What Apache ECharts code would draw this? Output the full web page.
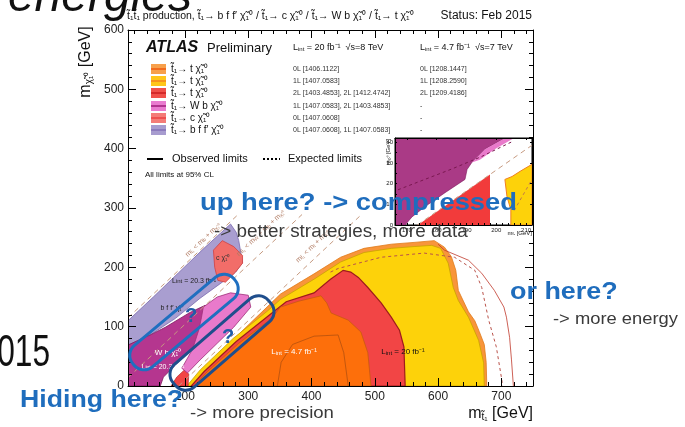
<!DOCTYPE html>
<html><head><meta charset="utf-8">
<script src="https://cdn.jsdelivr.net/npm/echarts@6/dist/echarts.min.js"></script>
<style>html,body{margin:0;padding:0;background:#fff}#c{width:685px;height:427px}</style>
</head><body><div id="c"></div>
<script>
// ---------- axis ticks / labels ----------
const xMajor = [200,300,400,500,600,700];
const xMinor = [120,140,160,180,220,240,260,280,320,340,360,380,420,440,460,480,520,540,560,580,620,640,660,680,720,740];
const insetXLabels = [170,180,190,200,210];
const insetXMinor = [168,172,174,176,178,182,184,186,188,192,194,196,198,202,204,206,208];
const insetYLabels = [0,10,20,30,40];
const insetYMinor = [5,15,25,35];

// ---------- main plot regions (m_stop, m_LSP) ----------
const orange0L = [[205,0],[226,27],[278,80],[351,155],[404,189],[446,217],[483,232],[526,239],[562,242],[594,245],[610,234],[621,218],[628,195],[632,161],[648,125],[658,110],[665,92],[673,70],[676,40],[677,0]];
const yellow1L = [[203,0],[224,27],[276,80],[330,126],[351,146],[404,180],[446,209],[483,225],[526,232],[562,235],[590,237],[604,232],[616,207],[624,166],[632,144],[648,116],[664,77],[672,39],[673,0]];
const red2L = [[210,0],[230,24],[281,75],[334,120],[360,142],[404,157],[430,180],[450,195],[462,192],[474,183],[489,166],[510,140],[526,116],[539,94],[546,66],[548,0]];
const orange7TeV = [[214,0],[236,25],[285,72],[336,113],[351,133],[380,143],[415,152],[424,140],[431,123],[458,111],[478,91],[489,56],[494,0]];
const contour7TeV = [[346,0],[352,40],[370,70],[404,84],[442,86],[451,56],[458,0]];
const red2Lsmall = [[178,0],[187,15],[200,28],[206,20],[205,0]];
const bffLav = [[110,110],[150,150],[190,191],[230,232],[272,273],[281,259],[285,245],[291,208],[280,192],[259,175],[224,148],[185,114],[145,86],[110,69]];
const cLSP = [[245,229],[259,245],[277,235],[291,220],[291,207],[280,192],[264,175],[252,178],[247,200]];
const wbMagenta = [[110,0],[110,69],[145,86],[169,99],[208,124],[232,136],[243,119],[220,72],[193,44],[166,15],[161,0]];
const wbPink = [[229,133],[251,150],[272,157],[300,153],[304,133],[277,99],[251,72],[224,44],[204,22],[195,30],[212,62],[222,95],[226,115]];
const expRight = [[430,192],[442,198],[510,217],[578,224],[626,217],[658,195],[669,166],[680,111],[692,66],[700,15],[702,0]];
const obsRightOuter = [[600,239],[610,229],[648,212],[669,190],[689,161],[704,133],[708,116],[713,82],[716,44],[719,0]];
const kinB = [[110,115],[285,290]];
const kinW = [[110,14],[385,289]];
const kinT = [[190,0],[480,290]];

// ---------- inset regions ----------
const insMagenta = [[166,0],[166,42],[203,42],[196.2,36.6],[191.8,30.2],[190.2,26.8],[189.5,22],[182.8,15.6],[176,8.8],[171.7,3.9],[169.4,0]];
const insPink = [[203,42],[206,42],[199.5,36.6],[194.5,31.5],[191.8,30.2],[196.2,36.6]];
const insRed = [[173.7,0],[197.9,24.4],[197.9,0]];
const insYellow = [[204.9,0],[204.9,7.3],[203.6,13.7],[202.9,22],[205.3,23.4],[208,25.9],[212,29.3],[212,0]];
const insExpMag = [[167,17],[185,27],[195,33],[205,40]];
const insKin = [[173.5,0],[212,38.5]];
const insExpYel = [[206,7],[212,22]];

// ---------- legend ----------
const legLabels = ['t\u0303\u2081\u2192 t \u03c7\u0303\u2081\u2070','t\u0303\u2081\u2192 t \u03c7\u0303\u2081\u2070','t\u0303\u2081\u2192 t \u03c7\u0303\u2081\u2070','t\u0303\u2081\u2192 W b \u03c7\u0303\u2081\u2070','t\u0303\u2081\u2192 c \u03c7\u0303\u2081\u2070','t\u0303\u2081\u2192 b f f\u2032 \u03c7\u0303\u2081\u2070'];
const legRefs8 = ['0L [1406.1122]','1L [1407.0583]','2L [1403.4853], 2L [1412.4742]','1L [1407.0583], 2L [1403.4853]','0L [1407.0608]','0L [1407.0608], 1L [1407.0583]'];
const legRefs7 = ['0L [1208.1447]','1L [1208.2590]','2L [1209.4186]','-','-','-'];
const legFill = ['#f7a04b','#ffc61a','#f0504a','#e97bcf','#f47c78','#a79ccf'];
const legLine = ['#f26b1d','#f7941d','#d42a2a','#b1338f','#ee5050','#8c7bbd'];

const FONT = 'Liberation Sans, Arial, sans-serif';

function poly(data, fill, stroke, lw, inset, z) {
  return {type:'custom', xAxisIndex: inset?4:0, yAxisIndex: inset?2:0, z: z, silent:true, animation:false, clip:true,
    data: data,
    renderItem: function(params, api){
      if (params.dataIndex !== 0) return null;
      const pts = data.map(function(p){ return api.coord(p); });
      return {type:'polygon', shape:{points:pts}, style:{fill:fill, stroke:stroke||null, lineWidth:lw||0}};
    }};
}
function line(data, color, type, width, inset, z) {
  return {type:'line', xAxisIndex: inset?4:0, yAxisIndex: inset?2:0, data:data, symbol:'none', showSymbol:false,
    lineStyle:{color:color, type:type, width:width}, z:z, silent:true, animation:false};
}

const series = [
  poly(orange0L,'#f8953a','#e07a1a',0.8,false,2),
  poly(yellow1L,'#fdd20a','#c9a200',0.8,false,2),
  poly(red2L,'#f24545','#9e1c1c',1.2,false,2),
  poly(orange7TeV,'#fd6f0b','#c85a10',0.8,false,2),
  line(contour7TeV,'#b4500f','solid',0.8,false,2),
  poly(red2Lsmall,'#f24545','#b02020',0.6,false,2),
  poly(bffLav,'#a99ed0','#7a6aae',0.8,false,2),
  poly(cLSP,'#f26d69','#d04040',0.8,false,2),
  poly(wbMagenta,'#b5368f','#7d1a5e',0.8,false,2),
  poly(wbPink,'#e97acb','#a0307a',0.8,false,2),
  line(expRight,'#b9524a',[3,3],1,false,2),
  line(obsRightOuter,'#c0392b','solid',0.8,false,2),
  line(kinB,'#c69a80',[5,4],1,false,2),
  line(kinW,'#c69a80',[5,4],1,false,2),
  line(kinT,'#c69a80',[5,4],1,false,2),
  poly(insMagenta,'#aa3a86','#7d1a5e',0.6,true,6),
  poly(insPink,'#e97acb',null,0,true,6),
  poly(insRed,'#f23b3b',null,0,true,6),
  poly(insYellow,'#fdd20a','#f08020',1,true,6),
  line(insExpMag,'#7a1850',[3,3],1,true,6),
  line(insKin,'#c69a80',[5,4],1,true,6),
  line(insExpYel,'#c0784a',[3,3],1,true,6)
];

const tickStyle = {color:'#000', width:1};
function xAx(grid, pos, min, max, tickVals, len, labelVals, fs, showLine, z) {
  return {type:'value', gridIndex:grid, position:pos, min:min, max:max, z:z,
    axisLine:{show:showLine, onZero:false, lineStyle:{color:'#000', width:1}},
    axisTick:{show:true, inside:true, length:len, customValues:tickVals, lineStyle:tickStyle},
    axisLabel: labelVals ? {show:true, customValues:labelVals, margin:grid?2:5, fontSize:fs, color:'#222', fontFamily:FONT} : {show:false},
    splitLine:{show:false}};
}
const xAxis = [
  xAx(0,'bottom',110,750,xMajor,8,xMajor,12,true,3),
  xAx(0,'bottom',110,750,xMinor,4,null,0,false,3),
  xAx(0,'top',110,750,xMajor,8,null,0,true,3),
  xAx(0,'top',110,750,xMinor,4,null,0,false,3),
  xAx(1,'bottom',166,212,insetXLabels.concat(insetXMinor),2,insetXLabels,6,true,7),
  xAx(1,'top',166,212,insetXLabels,2,null,0,true,7)
];
const yAxis = [
  {type:'value', gridIndex:0, position:'left', min:0, max:600, interval:100, z:3,
   axisLine:{show:true,onZero:false,lineStyle:{color:'#000',width:1}},
   axisTick:{show:true,inside:true,length:8,lineStyle:tickStyle},
   minorTick:{show:true,splitNumber:5,length:4,lineStyle:tickStyle},
   axisLabel:{margin:4,fontSize:12,color:'#222',fontFamily:FONT}, splitLine:{show:false}},
  {type:'value', gridIndex:0, position:'right', min:0, max:600, interval:100, z:3,
   axisLine:{show:true,onZero:false,lineStyle:{color:'#000',width:1}},
   axisTick:{show:true,inside:true,length:8,lineStyle:tickStyle},
   minorTick:{show:true,splitNumber:5,length:4,lineStyle:tickStyle},
   axisLabel:{show:false}, splitLine:{show:false}},
  {type:'value', gridIndex:1, position:'left', min:0, max:42, z:7,
   axisLine:{show:true,onZero:false,lineStyle:{color:'#000',width:1}},
   axisTick:{show:true,inside:true,length:2,customValues:insetYLabels.concat(insetYMinor),lineStyle:tickStyle},
   axisLabel:{customValues:insetYLabels,margin:2,fontSize:6,color:'#222',fontFamily:FONT}, splitLine:{show:false}},
  {type:'value', gridIndex:1, position:'right', min:0, max:42, z:7,
   axisLine:{show:true,onZero:false,lineStyle:{color:'#000',width:1}},
   axisTick:{show:true,inside:true,length:2,customValues:insetYLabels,lineStyle:tickStyle},
   axisLabel:{show:false}, splitLine:{show:false}}
];

// ---------- graphic texts ----------
const g = [];
const subRich = {s:{fontSize:6, verticalAlign:'bottom', fontFamily:FONT}};
function txt(x,y,text,fs,opt){
  opt = opt||{};
  g.push({type:'text', x:x, y:y, rotation:opt.rot||0, scaleX:opt.sx||1, z:opt.z||30, silent:true,
    style:{text:text, fontSize:fs, fontFamily:opt.ff||FONT, fontWeight:opt.fw||'normal', fontStyle:opt.fst||'normal',
      fill:opt.fill||'#111', align:opt.align||'left', verticalAlign:'middle', rich:opt.rich}});
}
txt(192,-2,'energies',48,{fst:'italic',align:'right',fill:'#111'});
txt(50,354,'2015',44,{align:'right',fill:'#111',sx:0.72});
txt(127,16,'t\u0303\u2081t\u0303\u2081 production, t\u0303\u2081\u2192 b f f\u2032 \u03c7\u0303\u2081\u2070 / t\u0303\u2081\u2192 c \u03c7\u0303\u2081\u2070 / t\u0303\u2081\u2192 W b \u03c7\u0303\u2081\u2070 / t\u0303\u2081\u2192 t \u03c7\u0303\u2081\u2070',10.5);
txt(532,16,'Status: Feb 2015',12,{align:'right'});
txt(86,62,'m{s|\u03c7\u0303\u2081\u2070} [GeV]',16,{rot:Math.PI/2,align:'center',rich:{s:{fontSize:10,verticalAlign:'bottom',fontFamily:FONT}}});
txt(533,414,'m{s|t\u0303\u2081} [GeV]',16,{align:'right',rich:{s:{fontSize:10,verticalAlign:'bottom',fontFamily:FONT}}});
txt(146,48,'ATLAS',16,{fw:'bold',fst:'italic',z:12});
txt(207,48,'Preliminary',13,{z:12});
txt(293,48,'L{s|int} = 20 fb\u207b\u00b9  \u221as=8 TeV',9,{rich:subRich,z:12});
txt(420,48,'L{s|int} = 4.7 fb\u207b\u00b9  \u221as=7 TeV',9,{rich:subRich,z:12});
const rowY = [69,81,93,106,118,130];
for (let i=0;i<6;i++){
  g.push({type:'rect', z:12, silent:true, shape:{x:151,y:rowY[i]-5,width:15,height:10}, style:{fill:legFill[i]}});
  g.push({type:'line', z:12, silent:true, shape:{x1:151,y1:rowY[i],x2:166,y2:rowY[i]}, style:{stroke:legLine[i],lineWidth:2}});
  txt(171,rowY[i],legLabels[i],10,{z:12});
  txt(293,rowY[i],legRefs8[i],7,{z:12,fill:'#333'});
  txt(420,rowY[i],legRefs7[i],7,{z:12,fill:'#333'});
}
g.push({type:'line', z:12, silent:true, shape:{x1:147,y1:159,x2:163,y2:159}, style:{stroke:'#000',lineWidth:2}});
txt(172,159,'Observed limits',11,{z:12});
g.push({type:'line', z:12, silent:true, shape:{x1:263,y1:159,x2:280,y2:159}, style:{stroke:'#000',lineWidth:2,lineDash:[2,2]}});
txt(288,159,'Expected limits',11,{z:12});
txt(145,175,'All limits at 95% CL',8,{z:12});
// region labels
txt(216,258,'c \u03c7\u0303\u2081\u2070',7,{fill:'#333',z:12});
txt(194,281,'L{s|int} = 20.3 fb\u207b\u00b9',7,{fill:'#222',align:'center',rich:subRich,z:12});
txt(172,308,'b f f\u2032 \u03c7\u0303\u2081\u2070',7,{fill:'#222',align:'center',z:12});
txt(168,353,'W b \u03c7\u0303\u2081\u2070',8,{fill:'#fff',align:'center',z:12});
txt(163,367,'L{s|int} = 20.3 fb\u207b\u00b9',7,{fill:'#fff',align:'center',rich:{s:{fontSize:5,verticalAlign:'bottom',fill:'#fff'}},z:12});
txt(294,352,'L{s|int} = 4.7 fb\u207b\u00b9',8,{fill:'#fff',align:'center',rich:{s:{fontSize:6,verticalAlign:'bottom',fill:'#fff'}},z:12});
txt(403,352,'L{s|int} = 20 fb\u207b\u00b9',8,{fill:'#111',align:'center',rich:subRich,z:12});
const kr = {s:{fontSize:5,verticalAlign:'bottom',fill:'#b07a62'}};
txt(203,240,'m{s|t\u0303\u2081} < m{s|b} + m{s|\u03c7\u0303\u2081\u2070}',7,{fill:'#b07a62',align:'center',rot:0.76,rich:kr,z:12});
txt(261,233,'m{s|t\u0303\u2081} < m{s|W} + m{s|b} + m{s|\u03c7\u0303\u2081\u2070}',7,{fill:'#b07a62',align:'center',rot:0.76,rich:kr,z:12});
txt(313,246,'m{s|t\u0303\u2081} < m{s|t} + m{s|\u03c7\u0303\u2081\u2070}',7,{fill:'#b07a62',align:'center',rot:0.76,rich:kr,z:12});
// inset axis titles
txt(388,152,'m{s|\u03c7\u0303\u2081\u2070} [GeV]',6,{rot:Math.PI/2,align:'center',rich:{s:{fontSize:4,verticalAlign:'bottom'}},z:12});
txt(532,233,'m{s|t\u0303\u2081} [GeV]',6,{align:'right',rich:{s:{fontSize:4,verticalAlign:'bottom'}},z:12});
// annotations
const BLUE = '#1f6dbd';
g.push({type:'rect', x:184, y:322, rotation:40*Math.PI/180, z:40, silent:true, shape:{x:-66,y:-14,width:132,height:28,r:13}, style:{fill:null,stroke:'#1f6fc0',lineWidth:3}});
g.push({type:'rect', x:222, y:343, rotation:41*Math.PI/180, z:40, silent:true, shape:{x:-63,y:-15,width:126,height:30,r:13}, style:{fill:null,stroke:'#1f4e8c',lineWidth:3}});
txt(191,316,'?',20,{fw:'bold',fill:'#1f5ea8',align:'center',z:41});
txt(228,337,'?',20,{fw:'bold',fill:'#1f5ea8',align:'center',z:41});
txt(200,203,'up here? -> compressed',24,{fw:'bold',fill:BLUE,z:45,sx:1.14});
txt(214,232,'-> better strategies, more data',18,{fill:'#3a3a3a',z:45,sx:1.05});
txt(510,293,'or here?',23,{fw:'bold',fill:BLUE,z:45,sx:1.17});
txt(553,319,'-> more energy',17,{fill:'#3a3a3a',z:45,sx:1.08});
txt(20,401,'Hiding here?',23,{fw:'bold',fill:BLUE,z:45,sx:1.16});
txt(190,414,'-> more precision',16,{fill:'#3a3a3a',z:45,sx:1.16});

const chart = echarts.init(document.getElementById('c'), null, {renderer:'canvas'});
chart.setOption({
  animation:false,
  backgroundColor:'#fff',
  grid:[
    {left:128, top:30, width:405, height:356, show:false},
    {left:395, top:138, width:137, height:87, show:true, backgroundColor:'#fff', borderColor:'#000', borderWidth:1, z:5}
  ],
  xAxis:xAxis, yAxis:yAxis, series:series,
  graphic:{elements:g}
});
</script></body></html>
